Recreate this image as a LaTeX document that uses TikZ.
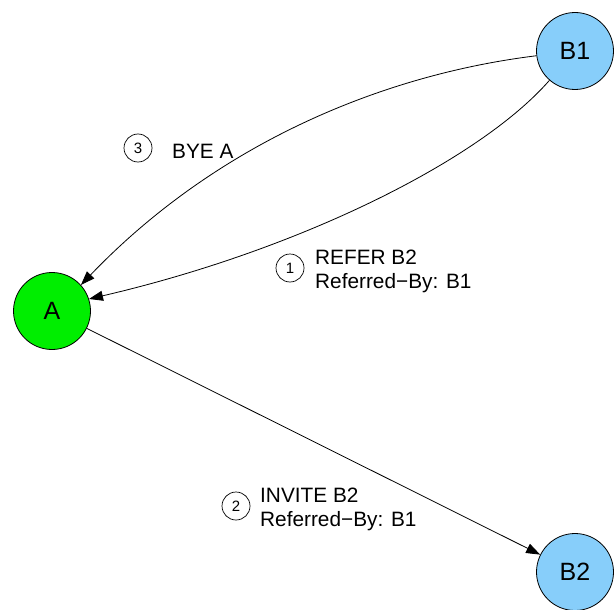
\documentclass[tikz,border=0pt]{standalone}
\usepackage{fontspec}
\setmainfont{Liberation Sans}
\usetikzlibrary{arrows.meta}
\definecolor{bluefill}{RGB}{135,206,250}
\definecolor{greenfill}{RGB}{0,238,0}
\begin{document}
\begin{tikzpicture}[x=1pt,y=-1pt,
  party/.style={circle,draw=black,line width=0.8pt,minimum size=77pt,inner sep=0pt,font=\fontsize{25}{27}\selectfont},
  num/.style={circle,draw=black,line width=0.7pt,minimum size=28pt,inner sep=0pt,font=\fontsize{15}{16}\selectfont},
  msg/.style={anchor=west,align=left,inner sep=0pt,font=\fontsize{20.8}{24}\selectfont},
  edge/.style={draw=black,line width=0.8pt,-{Triangle[length=14pt,width=10pt]}}]
\useasboundingbox (0,0) rectangle (616,610);
\node[party,fill=bluefill] (B1) at (575,51) {B1};
\node[party,fill=greenfill] (A) at (52,311) {A};
\node[party,fill=bluefill] (B2) at (575,572) {B2};
\draw[edge] (B1) .. controls (380,75) and (215,145) .. (A.42);
\draw[edge] (B1) .. controls (480,160) and (300,250) .. (A.18);
\draw[edge] (A) -- (B2);
\node[num] (n3) at (138,148) {3};
\node[msg] (m3) at (172,151) {BYE A};
\node[num] (n1) at (290,268) {1};
\node[msg] (m1) at (315,271) {REFER B2\\Referred\textminus By: B1};
\node[num] (n2) at (236,506) {2};
\node[msg] (m2) at (260,509) {INVITE B2\\Referred\textminus By: B1};
\end{tikzpicture}
\end{document}
